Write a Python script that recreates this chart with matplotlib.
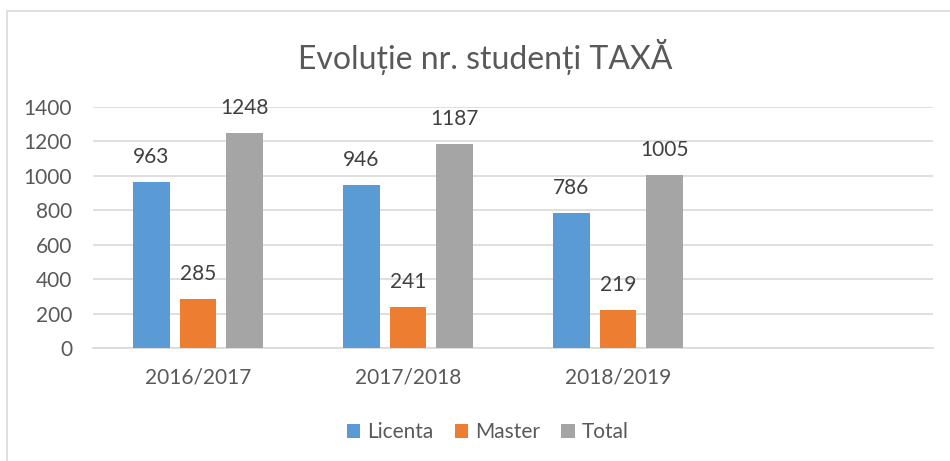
import numpy as np
import matplotlib
matplotlib.use("Agg")
import matplotlib.pyplot as plt
from matplotlib.patches import Rectangle

# data
categories = ["2016/2017", "2017/2018", "2018/2019", ""]
licenta = [963, 946, 786]
master = [285, 241, 219]
total = [1248, 1187, 1005]
series_names = ["Licenta", "Master", "Total"]
series_colors = ["#5B9BD5", "#ED7D31", "#A5A5A5"]
y_ticks = [0, 200, 400, 600, 800, 1000, 1200, 1400]

TEXT = "#595959"
plt.rcParams["font.family"] = ["Lato", "DejaVu Sans"]

fig = plt.figure(figsize=(9.5, 4.61), dpi=100)
fig.patches.append(Rectangle((7 / 950, -0.05), 1.2, 0.976 + 0.05,
                             transform=fig.transFigure, fill=False,
                             edgecolor="#D9D9D9", linewidth=1.2))

ax = fig.add_axes([93 / 950, 113 / 461, 840 / 950, 241 / 461])

x = np.arange(len(categories))
width = 0.174
step = 0.222
for i, (vals, name, col) in enumerate(zip([licenta, master, total],
                                          series_names, series_colors)):
    xs = x[:len(vals)] + (i - 1) * step
    bars = ax.bar(xs, vals, width, color=col, label=name, zorder=3)
    for b, v in zip(bars, vals):
        ax.annotate(str(v), (b.get_x() + b.get_width() / 2, v),
                    xytext=(0, 18), textcoords="offset points",
                    ha="center", va="center", fontsize=15, color="#404040")

ax.set_xlim(-0.5, 3.5)
ax.set_ylim(0, 1400)
ax.set_yticks(y_ticks)
ax.set_xticks(x)
ax.set_xticklabels(categories)
ax.tick_params(axis="y", length=0, pad=15, labelsize=15, labelcolor=TEXT)
ax.tick_params(axis="x", length=0, pad=14, labelsize=15, labelcolor=TEXT)
ax.grid(axis="y", color="#D9D9D9", linewidth=1.2, zorder=0)
for s in ["top", "right", "left"]:
    ax.spines[s].set_visible(False)
ax.spines["bottom"].set_color("#D9D9D9")
ax.spines["bottom"].set_linewidth(1.2)

fig.text(485 / 950, 1 - 57 / 461, "Evoluție nr. studenți TAXĂ",
         ha="center", va="center", fontsize=23, color=TEXT)

fig.legend(loc="center", bbox_to_anchor=(488 / 950, 1 - 432 / 461), ncol=3,
           frameon=False, fontsize=15, labelcolor=TEXT, handlelength=0.65,
           handleheight=0.65, handletextpad=0.35, columnspacing=1.0)

fig.savefig("out.png", dpi=100)
